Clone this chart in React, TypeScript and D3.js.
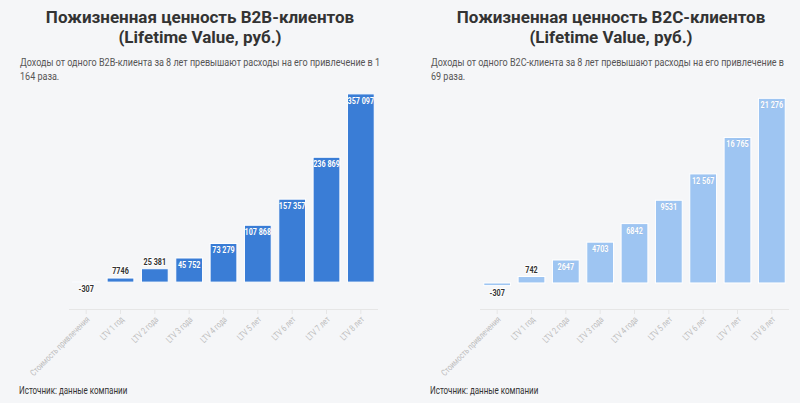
import React from "react";
import * as d3 from "d3";

const categories = [
  "Стоимость привлечения",
  "LTV 1 год",
  "LTV 2 года",
  "LTV 3 года",
  "LTV 4 года",
  "LTV 5 лет",
  "LTV 6 лет",
  "LTV 7 лет",
  "LTV 8 лет",
];
const b2bValues = [-307, 7746, 25381, 45752, 73279, 107868, 157357, 236869, 357097];
const b2cValues = [-307, 742, 2647, 4703, 6842, 9531, 12567, 16765, 21276];

const b2bTitle = ["Пожизненная ценность B2B-клиентов", "(Lifetime Value, руб.)"];
const b2cTitle = ["Пожизненная ценность B2C-клиентов", "(Lifetime Value, руб.)"];
const b2bSubtitle = [
  "Доходы от одного B2B-клиента за 8 лет превышают расходы на его привлечение в 1",
  "164 раза.",
];
const b2cSubtitle = [
  "Доходы от одного B2C-клиента за 8 лет превышают расходы на его привлечение в",
  "69 раза.",
];
const sourceText = "Источник: данные компании";

const b2bDomain: [number, number] = [-51000, 410000];
const b2cDomain: [number, number] = [-3000, 25000];

const BG = "#f5f6f8";
const FONT = "Roboto, 'Noto Sans', sans-serif";

function fmt(v: number): string {
  const a = Math.abs(v);
  if (a < 10000) return String(v);
  const s = d3.format(",")(v);
  return s.replace(/,/g, " ");
}

type PanelProps = {
  offsetX: number;
  title: string[];
  subtitle: string[];
  values: number[];
  domain: [number, number];
  color: string;
};

function Panel({ offsetX, title, subtitle, values, domain, color }: PanelProps) {
  const plotLeft = 69;
  const plotRight = 378;
  const plotTop = 66;
  const plotBottom = 309;

  const x = d3
    .scaleBand<string>()
    .domain(categories)
    .range([plotLeft, plotRight])
    .paddingInner(0.22)
    .paddingOuter(0.11);
  const y = d3.scaleLinear().domain(domain).range([plotBottom, plotTop]);
  const y0 = y(0);
  const bw = x.bandwidth();

  return (
    <g transform={`translate(${offsetX},0)`}>
      {title.map((t, i) => (
        <text
          key={"t" + i}
          x={200}
          y={23 + i * 20}
          textAnchor="middle"
          fontFamily={FONT}
          fontWeight={700}
          fontSize={17}
          fill="#333333"
        >
          {t}
        </text>
      ))}
      {subtitle.map((t, i) => (
        <g key={"s" + i} transform={`translate(20,${66 + i * 14}) scale(0.82,1)`}>
          <text x={0} y={0} fontFamily={FONT} fontSize={11} fill="#555555">
            {t}
          </text>
        </g>
      ))}

      <line x1={plotLeft} x2={plotRight} y1={plotBottom + 0.5} y2={plotBottom + 0.5} stroke="#e6e6e6" />
      {categories.map((c) => {
        const cx = (x(c) as number) + bw / 2;
        return (
          <g key={"tick" + c}>
            <line x1={cx} x2={cx} y1={plotBottom} y2={plotBottom + 5} stroke="#e6e6e6" />
            <g transform={`translate(${cx + 4},${plotBottom + 11}) rotate(-45) scale(0.77,1)`}>
              <text textAnchor="end" fontFamily={FONT} fontSize={9} fill="#bdbdbd">
                {c}
              </text>
            </g>
          </g>
        );
      })}

      {values.map((v, i) => {
        const c = categories[i];
        const bx = x(c) as number;
        const top = Math.min(y(v), y0);
        const h = Math.abs(y(v) - y0);
        return (
          <rect
            key={"b" + c}
            x={bx}
            y={top}
            width={bw}
            height={h}
            fill={color}
            stroke="#ffffff"
            strokeWidth={1}
          />
        );
      })}

      {values.map((v, i) => {
        const c = categories[i];
        const cx = (x(c) as number) + bw / 2;
        const h = y0 - y(v);
        let ly: number;
        let inside = false;
        if (v < 0) {
          ly = y(v) + 10;
        } else if (h >= 18) {
          ly = y(v) + 10;
          inside = true;
        } else {
          ly = y(v) - 4;
        }
        return (
          <g key={"l" + c} transform={`translate(${cx},${ly}) scale(0.76,1)`}>
            <text
              textAnchor="middle"
              fontFamily={FONT}
              fontWeight={700}
              fontSize={9.5}
              fill={inside ? "#ffffff" : "#333333"}
              stroke={inside ? "rgba(0,0,0,0.12)" : "#ffffff"}
              strokeWidth={inside ? 0.6 : 2}
              paintOrder="stroke"
              strokeLinejoin="round"
            >
              {fmt(v)}
            </text>
          </g>
        );
      })}

      <g transform={`translate(19,394) scale(0.8,1)`}>
        <text fontFamily={FONT} fontSize={10} fill="#333333">
          {sourceText}
        </text>
      </g>
    </g>
  );
}

export default function App() {
  return (
    <svg
      width={800}
      height={403}
      style={{ position: "absolute", left: 0, top: 0, display: "block" }}
    >
      <rect x={0} y={0} width={800} height={403} fill={BG} />
      <Panel
        offsetX={0}
        title={b2bTitle}
        subtitle={b2bSubtitle}
        values={b2bValues}
        domain={b2bDomain}
        color="#3a7dd6"
      />
      <Panel
        offsetX={411}
        title={b2cTitle}
        subtitle={b2cSubtitle}
        values={b2cValues}
        domain={b2cDomain}
        color="#9ec5f2"
      />
    </svg>
  );
}
